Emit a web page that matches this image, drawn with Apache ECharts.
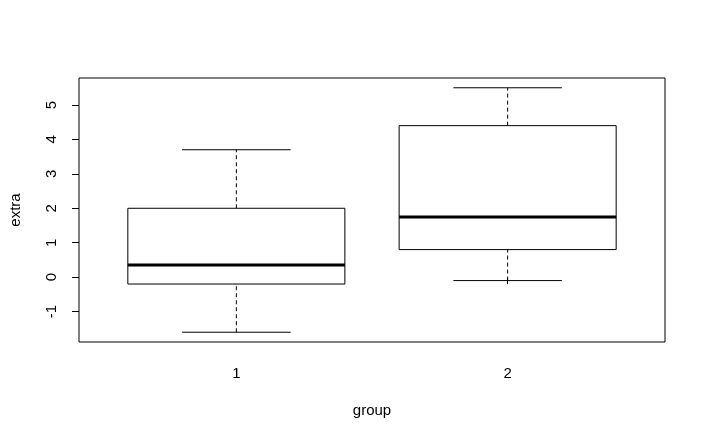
<!DOCTYPE html>
<html>
<head>
<meta charset="utf-8">
<script src="https://cdn.jsdelivr.net/npm/echarts@6/dist/echarts.min.js"></script>
<style>
html,body{margin:0;padding:0;background:#fff;}
#chart{width:707px;height:441px;}
</style>
</head>
<body>
<div id="chart"></div>
<script>
// Box statistics per group: [min whisker, lower hinge, median, upper hinge, max whisker]
const groups = [1, 2];
const groupLabels = ['1', '2'];
const group1Stats = [-1.6, -0.2, 0.35, 2.0, 3.7];
const group2Stats = [-0.1, 0.8, 1.75, 4.4, 5.5];
const yTicks = [-1, 0, 1, 2, 3, 4, 5];

const boxData = [
  [groups[0]].concat(group1Stats),
  [groups[1]].concat(group2Stats)
];

const chart = echarts.init(document.getElementById('chart'), null, {renderer: 'canvas'});
const FONT = 'Liberation Sans, Arial, sans-serif';

function renderItem(params, api) {
  const x = api.value(0);
  const mn = api.value(1), q1 = api.value(2), md = api.value(3), q3 = api.value(4), mx = api.value(5);
  const halfBox = 0.4, halfStaple = 0.2;
  const pL = api.coord([x - halfBox, q3]);
  const pR = api.coord([x + halfBox, q1]);
  const sL = api.coord([x - halfStaple, mx]);
  const sR = api.coord([x + halfStaple, mn]);
  const c = api.coord([x, md]);
  const yMin = api.coord([x, mn])[1], yQ1 = api.coord([x, q1])[1], yQ3 = api.coord([x, q3])[1], yMax = api.coord([x, mx])[1];
  const base = {stroke: '#000', lineWidth: 1, fill: null};
  return {
    type: 'group',
    children: [
      {type: 'line', shape: {x1: c[0], y1: yQ3, x2: c[0], y2: yMax}, style: Object.assign({}, base, {lineDash: [4, 3]})},
      {type: 'line', shape: {x1: c[0], y1: yMin, x2: c[0], y2: yQ1}, style: Object.assign({}, base, {lineDash: [4, 3]})},
      {type: 'line', shape: {x1: sL[0], y1: yMax, x2: sR[0], y2: yMax}, style: base},
      {type: 'line', shape: {x1: sL[0], y1: yMin, x2: sR[0], y2: yMin}, style: base},
      {type: 'rect', shape: {x: pL[0], y: pL[1], width: pR[0] - pL[0], height: pR[1] - pL[1]}, style: {stroke: '#000', lineWidth: 1, fill: '#fff'}},
      {type: 'line', shape: {x1: pL[0], y1: c[1], x2: pR[0], y2: c[1]}, style: {stroke: '#000', lineWidth: 3}}
    ]
  };
}

chart.setOption({
  animation: false,
  backgroundColor: '#fff',
  grid: {left: 78, right: 42, top: 78, bottom: 99, show: true, borderColor: '#000', borderWidth: 1, backgroundColor: 'transparent'},
  xAxis: {
    type: 'value', min: 0.42, max: 2.58,
    name: 'group', nameLocation: 'middle', nameGap: 61,
    nameTextStyle: {fontFamily: FONT, fontSize: 15, color: '#000'},
    axisLine: {show: false},
    splitLine: {show: false},
    axisTick: {show: true, length: 7, customValues: groups, lineStyle: {color: '#000'}},
    axisLabel: {customValues: groups, margin: 24, fontFamily: FONT, fontSize: 15, color: '#000',
      formatter: function (v) { const i = groups.indexOf(v); return i >= 0 ? groupLabels[i] : ''; }}
  },
  yAxis: {
    type: 'value', min: -1.884, max: 5.784,
    name: 'extra', nameLocation: 'middle', nameGap: 56, nameRotate: 90,
    nameTextStyle: {fontFamily: FONT, fontSize: 15, color: '#000'},
    axisLine: {show: false},
    splitLine: {show: false},
    axisTick: {show: true, length: 7, customValues: yTicks, lineStyle: {color: '#000'}},
    axisLabel: {customValues: yTicks, rotate: 90, margin: 20, fontFamily: FONT, fontSize: 15, color: '#000'}
  },
  series: [{
    type: 'custom',
    renderItem: renderItem,
    data: boxData,
    encode: {x: 0, y: [1, 2, 3, 4, 5]},
    clip: false
  }]
});
</script>
</body>
</html>
